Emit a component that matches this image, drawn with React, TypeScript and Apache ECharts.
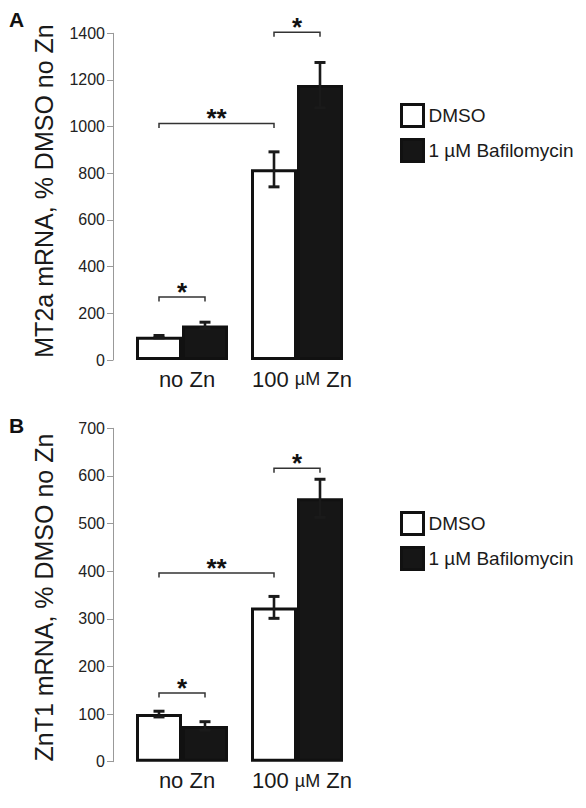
import React, { useEffect, useRef } from 'react';
import * as echarts from 'echarts';

const FONT = '"Liberation Sans", Arial, Helvetica, sans-serif';

const categories = ['no Zn', '100 µM Zn'];
const seriesNames = ['DMSO', '1 µM Bafilomycin'];

// Panel A: MT2a mRNA
const mt2aTitle = 'MT2a mRNA, % DMSO no Zn';
const mt2aAxis = { min: 0, max: 1400, interval: 200 };
const mt2aDMSO = [100, 817];
const mt2aDMSOErr = [5, 75];
const mt2aBaf = [148, 1178];
const mt2aBafErr = [14, 97];
// [fromCategory, height, fromSide(-1 DMSO / 1 Baf), toCategory, toSide]
const mt2aBrackets = [
  [0, 270, -1, 0, 1],
  [0, 1014, -1, 1, -1],
  [1, 1404, -1, 1, 1],
];
const mt2aBracketLabels = ['*', '**', '*'];

// Panel B: ZnT1 mRNA
const znt1Title = 'ZnT1 mRNA, % DMSO no Zn';
const znt1Axis = { min: 0, max: 700, interval: 100 };
const znt1DMSO = [100, 324];
const znt1DMSOErr = [6, 23];
const znt1Baf = [75, 553];
const znt1BafErr = [9, 40];
const znt1Brackets = [
  [0, 144, -1, 0, 1],
  [0, 396, -1, 1, -1],
  [1, 616, -1, 1, 1],
];
const znt1BracketLabels = ['*', '**', '*'];

const BAR_EDGE = '#111';
const BAR_DARK = '#161616';

function errData(vals: number[], errs: number[], side: number) {
  return vals.map((v, i) => [i, v, errs[i], side]);
}

const errRender = (params: any, api: any) => {
  const cat = api.value(0);
  const v = api.value(1);
  const e = api.value(2);
  const side = api.value(3);
  const band = api.size([1, 0])[0];
  const dx = side * band * 0.2;
  const top = api.coord([cat, v + e]);
  const bot = api.coord([cat, v - e]);
  const x = top[0] + dx;
  const cap = 5.5;
  const st = { stroke: '#1a1a1a', lineWidth: 2.6 };
  return {
    type: 'group',
    children: [
      { type: 'line', shape: { x1: x, y1: top[1], x2: x, y2: bot[1] }, style: st },
      { type: 'line', shape: { x1: x - cap, y1: top[1], x2: x + cap, y2: top[1] }, style: { stroke: '#1a1a1a', lineWidth: 3 } },
      { type: 'line', shape: { x1: x - cap, y1: bot[1], x2: x + cap, y2: bot[1] }, style: { stroke: '#1a1a1a', lineWidth: 3 } },
    ],
  };
};

const makeBracketRender = (labels: string[]) => (params: any, api: any) => {
  const c0 = api.value(0);
  const y = api.value(1);
  const s0 = api.value(2);
  const c1 = api.value(3);
  const s1 = api.value(4);
  const band = api.size([1, 0])[0];
  const p0 = api.coord([c0, y]);
  const p1 = api.coord([c1, y]);
  const x0 = p0[0] + s0 * band * 0.2;
  const x1 = p1[0] + s1 * band * 0.2;
  const yy = p0[1];
  return {
    type: 'group',
    children: [
      {
        type: 'polyline',
        shape: { points: [[x0, yy + 4.5], [x0, yy], [x1, yy], [x1, yy + 4.5]] },
        style: { stroke: '#333', lineWidth: 1.5, fill: 'none' },
      },
      {
        type: 'text',
        x: (x0 + x1) / 2,
        y: yy - 5,
        style: {
          text: labels[params.dataIndex],
          fill: '#111',
          fontSize: 26,
          fontWeight: 'bold',
          fontFamily: FONT,
          align: 'center',
          verticalAlign: 'middle',
        },
      },
    ],
  };
};

function buildOption() {
  const grids = [
    { left: 124.5, width: 230, top: 33.3, height: 326.7 },
    { left: 124.5, width: 230, top: 428.3, height: 333.4 },
  ];
  const axes = [mt2aAxis, znt1Axis];
  const xAxis = grids.map((_, i) => ({
    type: 'category',
    gridIndex: i,
    data: categories,
    axisLine: { show: false },
    axisTick: { show: false },
    axisLabel: {
      interval: 0,
      hideOverlap: false,
      fontSize: 22,
      color: '#1a1a1a',
      fontFamily: FONT,
      margin: 8,
      padding: [0, 0, 0, 10],
      formatter: (v: string) => v.replace('µM', '{s|µM}'),
      rich: { s: { fontSize: 18, color: '#1a1a1a', fontFamily: FONT } },
    },
  }));
  const yAxis = grids.map((_, i) => ({
    type: 'value',
    gridIndex: i,
    min: axes[i].min,
    max: axes[i].max,
    interval: axes[i].interval,
    offset: 11.5,
    axisLine: { show: true, lineStyle: { color: '#999', width: 1 } },
    axisTick: { show: true, length: 6, lineStyle: { color: '#999', width: 1 } },
    splitLine: { show: false },
    axisLabel: {
      fontSize: 16,
      color: '#222',
      fontFamily: FONT,
      margin: 8,
      formatter: (v: number) => String(v),
    },
  }));

  const panels = [
    { dmso: mt2aDMSO, dErr: mt2aDMSOErr, baf: mt2aBaf, bErr: mt2aBafErr, br: mt2aBrackets, bl: mt2aBracketLabels },
    { dmso: znt1DMSO, dErr: znt1DMSOErr, baf: znt1Baf, bErr: znt1BafErr, br: znt1Brackets, bl: znt1BracketLabels },
  ];
  const series: any[] = [];
  panels.forEach((p, i) => {
    series.push({
      type: 'bar',
      name: seriesNames[0],
      xAxisIndex: i,
      yAxisIndex: i,
      data: p.dmso,
      barWidth: 46,
      barGap: '0%',
      itemStyle: { color: '#fff', borderColor: BAR_EDGE, borderWidth: 3 },
      z: 2,
    });
    series.push({
      type: 'bar',
      name: seriesNames[1],
      xAxisIndex: i,
      yAxisIndex: i,
      data: p.baf,
      barWidth: 46,
      barGap: '0%',
      itemStyle: { color: BAR_DARK, borderColor: BAR_EDGE, borderWidth: 3 },
      z: 2,
    });
    series.push({
      type: 'custom',
      xAxisIndex: i,
      yAxisIndex: i,
      data: [...errData(p.dmso, p.dErr, -1), ...errData(p.baf, p.bErr, 1)],
      encode: { x: 0, y: 1 },
      renderItem: errRender,
      clip: false,
      z: 5,
      silent: true,
    });
    series.push({
      type: 'custom',
      xAxisIndex: i,
      yAxisIndex: i,
      data: p.br,
      encode: { x: 0, y: 1 },
      renderItem: makeBracketRender(p.bl),
      clip: false,
      z: 6,
      silent: true,
    });
  });

  const legendBase = {
    orient: 'vertical',
    left: 395,
    padding: 5,
    itemWidth: 22,
    itemHeight: 22,
    itemGap: 10,
    selectedMode: false,
    textStyle: { fontSize: 19, color: '#1a1a1a', fontFamily: FONT },
    data: [
      { name: seriesNames[0], icon: 'rect', itemStyle: { color: '#fff', borderColor: BAR_EDGE, borderWidth: 3 } },
      { name: seriesNames[1], icon: 'rect', itemStyle: { color: BAR_DARK, borderColor: BAR_EDGE, borderWidth: 3 } },
    ],
  };

  const titleStyle = (text: string) => ({
    text,
    fill: '#1a1a1a',
    fontSize: 25,
    fontFamily: FONT,
    align: 'center',
    verticalAlign: 'middle',
  });

  return {
    animation: false,
    backgroundColor: '#fff',
    grid: grids,
    xAxis,
    yAxis,
    series,
    legend: [
      { ...legendBase, top: 98 },
      { ...legendBase, top: 506 },
    ],
    graphic: [
      { type: 'text', x: 9, y: 9, style: { text: 'A', fill: '#111', fontSize: 21, fontWeight: 'bold', fontFamily: FONT, align: 'left', verticalAlign: 'top' } },
      { type: 'text', x: 9, y: 415, style: { text: 'B', fill: '#111', fontSize: 21, fontWeight: 'bold', fontFamily: FONT, align: 'left', verticalAlign: 'top' } },
      { type: 'text', x: 44, y: 191, rotation: Math.PI / 2, style: titleStyle(mt2aTitle) },
      { type: 'text', x: 44, y: 597.6, rotation: Math.PI / 2, style: titleStyle(znt1Title) },
    ],
  };
}

export default function App() {
  const ref = useRef<HTMLDivElement>(null);
  useEffect(() => {
    if (!ref.current) return;
    const chart = echarts.init(ref.current, null, { renderer: 'svg' });
    chart.setOption(buildOption() as any);
    return () => chart.dispose();
  }, []);
  return (
    <div
      ref={ref}
      style={{ position: 'fixed', left: 0, top: 0, width: 586, height: 808, background: '#fff' }}
    />
  );
}
